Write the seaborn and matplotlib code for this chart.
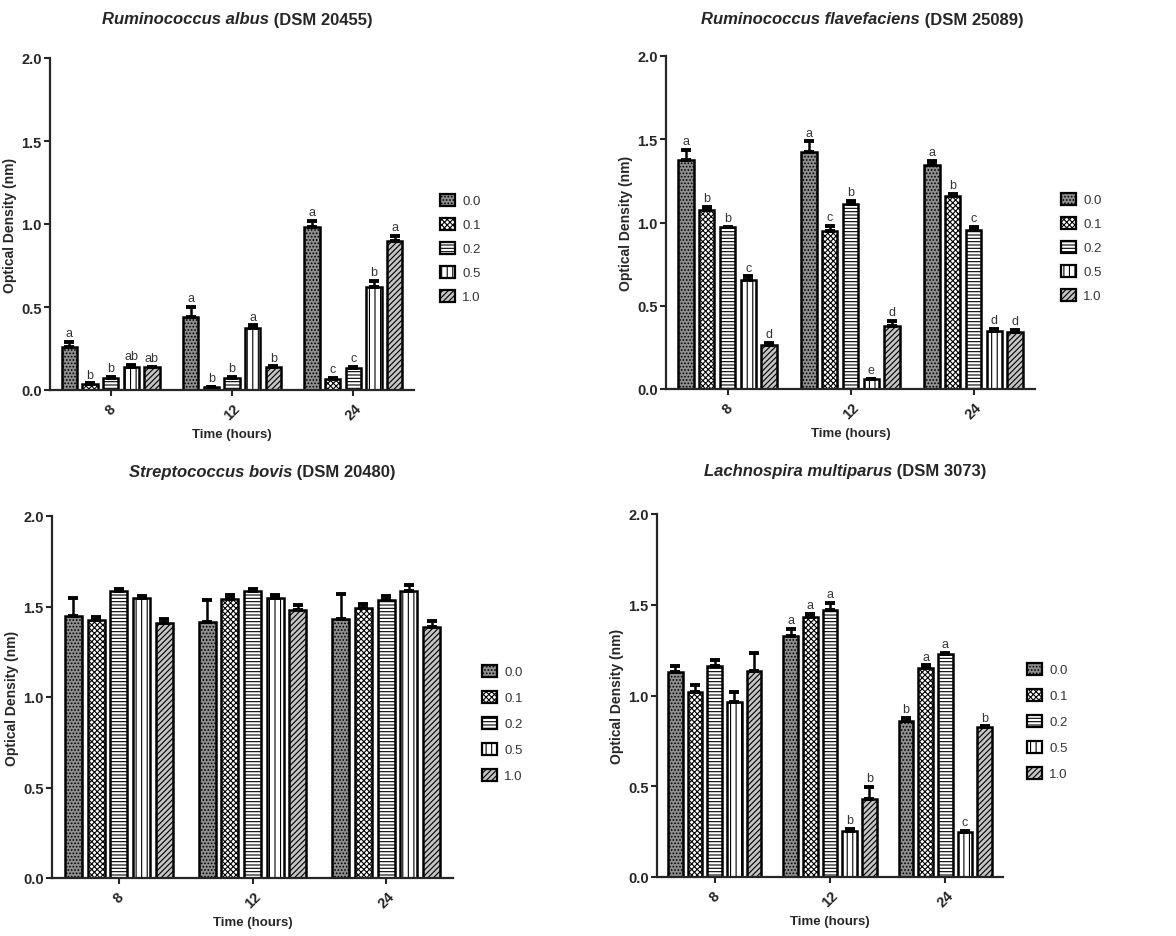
import numpy as np
import pandas as pd
import matplotlib
matplotlib.use('Agg')
import matplotlib.pyplot as plt
import seaborn as sns
from matplotlib.patches import Patch
from matplotlib.offsetbox import TextArea, HPacker, AnchoredOffsetbox

times = ['8', '12', '24']
concs = ['0.0', '0.1', '0.2', '0.5', '1.0']

# rows = time (8, 12, 24 h), columns = concentration (0.0 ... 1.0)
albus_mean = [[0.26, 0.036, 0.072, 0.14, 0.136],
              [0.437, 0.016, 0.072, 0.371, 0.14],
              [0.979, 0.068, 0.132, 0.62, 0.897]]
albus_sem = [[0.03, 0.004, 0.006, 0.01, 0.002],
             [0.066, 0.004, 0.005, 0.018, 0.002],
             [0.04, 0.005, 0.005, 0.036, 0.03]]
albus_letters = [['a', 'b', 'b', 'ab', 'ab'],
                 ['a', 'b', 'b', 'a', 'b'],
                 ['a', 'c', 'c', 'b', 'a']]

flav_mean = [[1.377, 1.076, 0.97, 0.657, 0.265],
             [1.421, 0.948, 1.11, 0.058, 0.379],
             [1.347, 1.162, 0.952, 0.349, 0.345]]
flav_sem = [[0.06, 0.02, 0.005, 0.02, 0.01],
            [0.066, 0.032, 0.022, 0.005, 0.03],
            [0.022, 0.01, 0.022, 0.01, 0.01]]
flav_letters = [['a', 'b', 'b', 'c', 'd'],
                ['a', 'c', 'b', 'e', 'd'],
                ['a', 'b', 'c', 'd', 'd']]

bovis_mean = [[1.448, 1.426, 1.584, 1.546, 1.411],
              [1.417, 1.54, 1.586, 1.547, 1.483],
              [1.43, 1.494, 1.538, 1.586, 1.384]]
bovis_sem = [[0.10, 0.018, 0.01, 0.01, 0.02],
             [0.12, 0.022, 0.01, 0.015, 0.024],
             [0.14, 0.022, 0.022, 0.033, 0.035]]

lach_mean = [[1.132, 1.022, 1.161, 0.965, 1.134],
             [1.33, 1.435, 1.473, 0.251, 0.429],
             [0.861, 1.154, 1.228, 0.248, 0.824]]
lach_sem = [[0.028, 0.037, 0.032, 0.053, 0.099],
            [0.037, 0.015, 0.037, 0.015, 0.066],
            [0.015, 0.012, 0.008, 0.006, 0.006]]
lach_letters = [['', '', '', '', ''],
                ['a', 'a', 'a', 'b', 'b'],
                ['b', 'a', 'a', 'c', 'b']]

face = {'0.0': '#8f8f8f', '0.1': '#ffffff', '0.2': '#ffffff', '0.5': '#ffffff', '1.0': '#c4c4c4'}
hatch = {'0.0': '.....', '0.1': 'xxxxxx', '0.2': '-----', '0.5': '|||', '1.0': '//////'}

sns.set_style('ticks')
plt.rcParams['font.family'] = ['Liberation Sans', 'DejaVu Sans']
plt.rcParams['hatch.linewidth'] = 0.8

fig = plt.figure(figsize=(11.76, 9.37), dpi=100)


def panel(rect, mean, sem, letters, it_name, rest, title_xy, leg_xy, leg_space):
    ax = fig.add_axes(rect)
    df = pd.DataFrame({'Time': np.repeat(times, len(concs)),
                       'Conc': concs * len(times),
                       'OD': np.ravel(mean)})
    sns.barplot(data=df, x='Time', y='OD', hue='Conc', order=times, hue_order=concs,
                palette=face, saturation=1, width=0.85, gap=0.25, errorbar=None,
                edgecolor='black', linewidth=1.8, legend=False, ax=ax)
    bars = list(ax.containers)
    for i, cont in enumerate(bars):
        for j, bar in enumerate(cont):
            bar.set_hatch(hatch[concs[i]])
            x = bar.get_x() + bar.get_width() / 2
            top = bar.get_height()
            err = sem[j][i]
            ax.errorbar(x, top, yerr=[[0], [err]], fmt='none', ecolor='black',
                        elinewidth=1.8, capsize=3.5, capthick=2.8)
            if letters is not None and letters[j][i]:
                ax.annotate(letters[j][i], (x, top + err), xytext=(0, 2),
                            textcoords='offset points', ha='center', va='bottom',
                            fontsize=9, color='#333333')
    ax.set_ylim(0, 2.0)
    ax.set_xlim(-0.5, 2.5)
    ax.set_yticks([0, 0.5, 1.0, 1.5, 2.0])
    ax.set_yticklabels(['0.0', '0.5', '1.0', '1.5', '2.0'], fontweight='bold', fontsize=10.5)
    ax.set_xticks(range(len(times)))
    ax.set_xticklabels(times, rotation=45, ha='center', fontweight='bold', fontsize=10.5)
    ax.set_xlabel('Time (hours)', fontweight='bold', fontsize=9.5, labelpad=4)
    ax.set_ylabel('Optical Density (nm)', fontweight='bold', fontsize=10, labelpad=3)
    for s in ['left', 'bottom']:
        ax.spines[s].set_linewidth(1.6)
    sns.despine(ax=ax)
    ax.tick_params(width=1.5, length=4, pad=2)
    ax.tick_params(axis='x', pad=4)

    box = HPacker(children=[
        TextArea(it_name, textprops=dict(fontsize=12, fontweight='bold', style='italic')),
        TextArea(rest, textprops=dict(fontsize=12, fontweight='bold'))],
        align='baseline', pad=0, sep=0)
    fig.add_artist(AnchoredOffsetbox(loc='center', child=box, pad=0, borderpad=0, frameon=False,
                                     bbox_to_anchor=title_xy, bbox_transform=fig.transFigure))

    handles = [Patch(facecolor=face[c], hatch=hatch[c], edgecolor='black', linewidth=1.6, label=c)
               for c in concs]
    leg = fig.legend(handles=handles, loc='upper left', bbox_to_anchor=leg_xy, frameon=False,
                     fontsize=9.5, handlelength=1.1, handleheight=1.0, handletextpad=0.6,
                     labelspacing=leg_space, borderpad=0, borderaxespad=0)
    for t in leg.get_texts():
        t.set_color('#333333')
    return ax


W, H = 1176, 937


def frac(l, t, r, b):
    return [l / W, 1 - b / H, (r - l) / W, (b - t) / H]


panel(frac(50, 59, 414, 391), albus_mean, albus_sem, albus_letters,
      'Ruminococcus albus', ' (DSM 20455)', (237 / W, 1 - 20 / H), (440 / W, 1 - 195 / H), 0.8)
panel(frac(666, 57, 1035, 390), flav_mean, flav_sem, flav_letters,
      'Ruminococcus flavefaciens', ' (DSM 25089)', (862 / W, 1 - 20 / H), (1061 / W, 1 - 194 / H), 0.8)
panel(frac(52, 517, 453, 879), bovis_mean, bovis_sem, None,
      'Streptococcus bovis', ' (DSM 20480)', (262 / W, 1 - 473 / H), (482 / W, 1 - 666 / H), 0.95)
panel(frac(657, 515, 1003, 878), lach_mean, lach_sem, lach_letters,
      'Lachnospira multiparus', ' (DSM 3073)', (845 / W, 1 - 472 / H), (1027 / W, 1 - 664 / H), 0.95)

fig.savefig('out.png', dpi=100)
